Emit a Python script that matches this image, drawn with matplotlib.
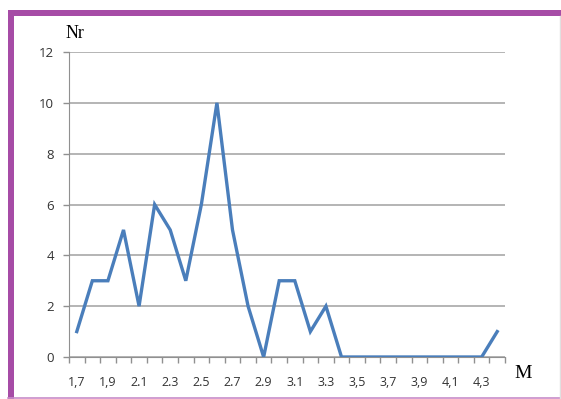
import numpy as np
import matplotlib
matplotlib.use("Agg")
import matplotlib.pyplot as plt
from matplotlib.patches import Rectangle
from matplotlib.lines import Line2D

# magnitude classes and counts
mag = ['1,7', '1.8', '1,9', '2.0', '2.1', '2.2', '2.3', '2.4', '2.5', '2.6',
       '2.7', '2.8', '2.9', '3.0', '3.1', '3.2', '3.3', '3.4', '3,5', '3,6',
       '3,7', '3,8', '3,9', '4,0', '4,1', '4,2', '4,3', '4,4']
counts = [1, 3, 3, 5, 2, 6, 5, 3, 6, 10, 5, 2, 0, 3, 3, 1, 2, 0, 0, 0,
          0, 0, 0, 0, 0, 0, 0, 1]
yticks = [0, 2, 4, 6, 8, 10, 12]

fig = plt.figure(figsize=(5.61, 3.99), dpi=100)
ax = fig.add_axes([69/561, 1 - 357/399, 436/561, 305/399])

x = np.arange(len(counts))
ax.plot(x, counts, color='#4a7ebb', lw=2.4, solid_joinstyle='miter', zorder=3)

ax.set_xlim(-0.5, len(counts) - 0.5)
ax.set_ylim(0, 12)
ax.set_yticks(yticks)
ax.grid(axis='y', color='#a0a0a0', lw=1.1)
ax.set_axisbelow(True)

# labels on every other category, tick marks between categories
ax.set_xticks(x[::2])
ax.set_xticklabels(mag[::2])
ax.set_xticks(np.arange(-0.5, len(counts)), minor=True)
ax.tick_params(axis='x', which='major', length=0, pad=14, labelsize=9, labelcolor='#333333')
ax.tick_params(axis='x', which='minor', length=4, width=1, color='#909090', direction='out')
ax.tick_params(axis='y', length=4, width=1, color='#909090', labelsize=9.5, pad=7, labelcolor='#333333')
for lab in ax.get_xticklabels() + ax.get_yticklabels():
    lab.set_fontfamily('Open Sans')

for s in ['top', 'right']:
    ax.spines[s].set_visible(False)
ax.spines['left'].set_color('#909090')
ax.spines['bottom'].set_color('#909090')

fig.text(66/561, 1 - 33/399, 'Nr', fontsize=13, family='Liberation Serif', va='center')
fig.text(514/561, 1 - 373/399, 'M', fontsize=14, family='Liberation Serif', va='center')

# frame around the picture
fig.patches.append(Rectangle((8/561, 0), 6/561, 1 - 10/399, transform=fig.transFigure,
                             color='#a64ca6', lw=0))
fig.patches.append(Rectangle((8/561, 1 - 16/399), 1, 6/399, transform=fig.transFigure,
                             color='#a64ca6', lw=0))
fig.lines.append(Line2D([8/561, 1], [1.5/399, 1.5/399], transform=fig.transFigure,
                        color='#c88cc8', lw=1.2))
fig.lines.append(Line2D([559.5/561, 559.5/561], [0, 1 - 16/399], transform=fig.transFigure,
                        color='#e0e0e0', lw=1))

fig.savefig('out.png', dpi=100)
